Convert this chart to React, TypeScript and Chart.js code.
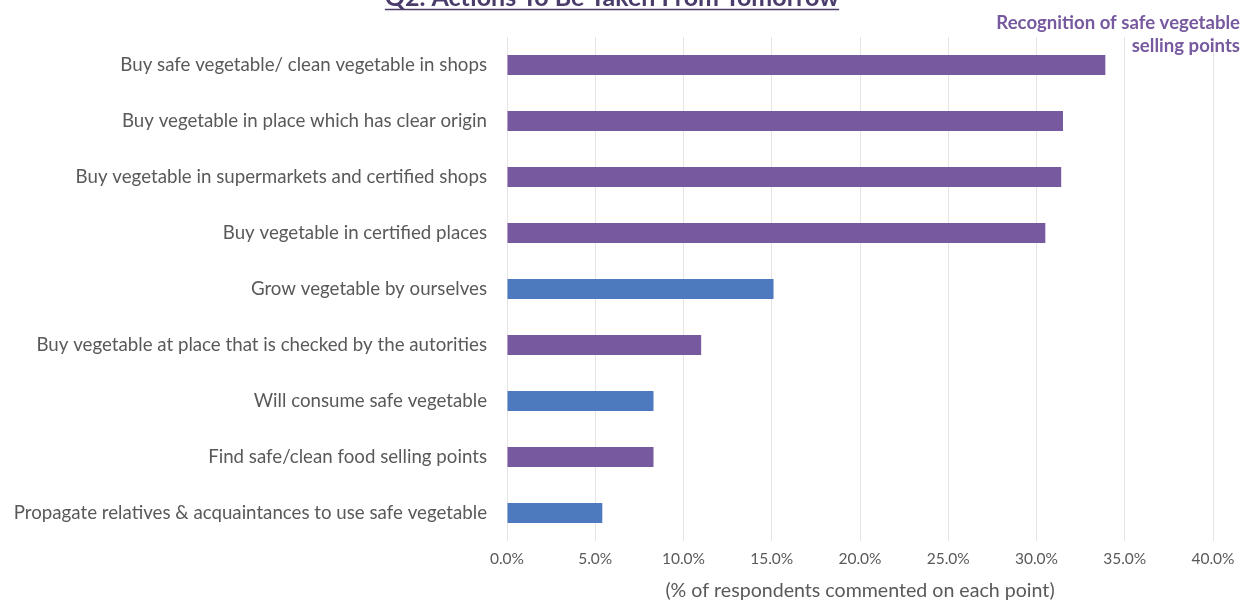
import React, { useEffect, useRef } from "react";
import { Chart, registerables } from "chart.js";

Chart.register(...registerables);

const categories: string[] = [
  "Buy safe vegetable/ clean vegetable in shops",
  "Buy vegetable in place which has clear origin",
  "Buy vegetable in supermarkets and certified shops",
  "Buy vegetable in certified places",
  "Grow vegetable by ourselves",
  "Buy vegetable at place that is checked by the autorities",
  "Will consume safe vegetable",
  "Find safe/clean food selling points",
  "Propagate relatives & acquaintances to use safe vegetable",
];

const values: number[] = [33.9, 31.5, 31.4, 30.5, 15.1, 11.0, 8.3, 8.3, 5.4];

// true = belongs to "Recognition of safe vegetable selling points"
const recognitionGroup: boolean[] = [true, true, true, true, false, true, false, true, false];

const xTicks: number[] = [0, 5, 10, 15, 20, 25, 30, 35, 40];

const titleText = "Q2. Actions To Be Taken From Tomorrow";
const annotationLines: string[] = ["Recognition of safe vegetable", "selling points"];
const xAxisTitle = "(% of respondents commented on each point)";

const FONT = "Lato, 'Open Sans', sans-serif";
const PURPLE = "#76599f";
const BLUE = "#4d79bf";
const TEXT = "#595959";

const overlayPlugin = {
  id: "overlayText",
  afterDraw(chart: any) {
    const ctx = chart.ctx as CanvasRenderingContext2D;
    ctx.save();
    // Title (cropped at the top)
    ctx.font = `bold 25px ${FONT}`;
    ctx.fillStyle = "#4a3d6b";
    ctx.textAlign = "center";
    ctx.textBaseline = "alphabetic";
    const tx = 612;
    const ty = 6;
    ctx.fillText(titleText, tx, ty);
    const w = ctx.measureText(titleText).width;
    ctx.strokeStyle = "#4a3d6b";
    ctx.lineWidth = 1.5;
    ctx.beginPath();
    ctx.moveTo(tx - w / 2, ty + 3.5);
    ctx.lineTo(tx + w / 2, ty + 3.5);
    ctx.stroke();
    // Annotation
    ctx.font = `bold 18.6px ${FONT}`;
    ctx.fillStyle = PURPLE;
    ctx.textAlign = "right";
    ctx.textBaseline = "middle";
    ctx.fillText(annotationLines[0], 1240, 23);
    ctx.fillText(annotationLines[1], 1240, 46);
    ctx.restore();
  },
};

export default function App() {
  const canvasRef = useRef<HTMLCanvasElement | null>(null);

  useEffect(() => {
    if (!canvasRef.current) return;
    const chart = new Chart(canvasRef.current, {
      type: "bar",
      data: {
        labels: categories,
        datasets: [
          {
            data: values,
            backgroundColor: recognitionGroup.map((r) => (r ? PURPLE : BLUE)),
            barPercentage: 0.72,
            categoryPercentage: 0.5,
          },
        ],
      },
      options: {
        indexAxis: "y",
        animation: false,
        responsive: false,
        maintainAspectRatio: false,
        layout: { padding: { top: 37, left: 0, right: 37, bottom: 0 } },
        plugins: {
          legend: { display: false },
          tooltip: { enabled: false },
        },
        scales: {
          x: {
            min: 0,
            max: 40,
            afterBuildTicks: (scale: any) => {
              scale.ticks = xTicks.map((v) => ({ value: v }));
            },
            afterFit: (scale: any) => {
              scale.height = 62;
            },
            grid: { color: "#e4e4e4", drawTicks: false },
            border: { display: false },
            ticks: {
              padding: 9,
              color: TEXT,
              font: { family: FONT, size: 15.5 },
              callback: (v: any) => Number(v).toFixed(1) + "%",
            },
            title: {
              display: true,
              text: xAxisTitle,
              color: TEXT,
              font: { family: FONT, size: 19.6 },
              padding: { top: 2, bottom: 1 },
            },
          },
          y: {
            afterFit: (scale: any) => {
              scale.width = 507;
            },
            grid: { display: false, drawTicks: false },
            border: { display: false },
            ticks: {
              padding: 20,
              color: TEXT,
              font: { family: FONT, size: 18.7 },
            },
          },
        },
      },
      plugins: [overlayPlugin],
    });
    return () => chart.destroy();
  }, []);

  return (
    <div style={{ position: "absolute", left: 0, top: 0, width: 1250, height: 603, background: "#fff" }}>
      <canvas ref={canvasRef} width={1250} height={603} />
    </div>
  );
}
